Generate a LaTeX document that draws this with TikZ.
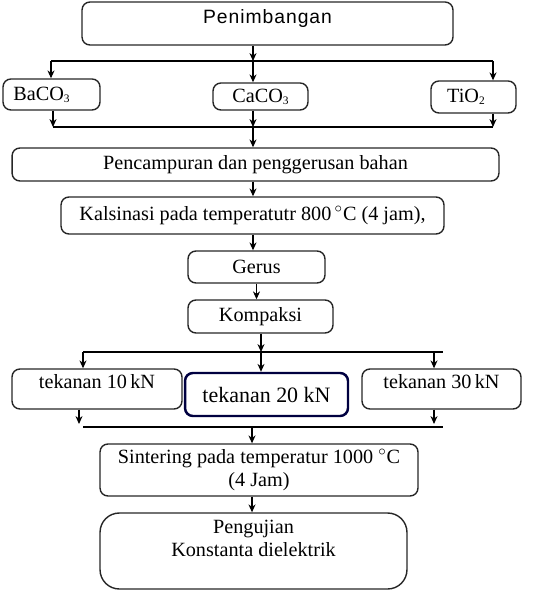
\documentclass[tikz,border=0pt]{standalone}
\usepackage{fontspec}
\setmainfont{Liberation Serif}
\newfontfamily\headfont[LetterSpace=5]{Liberation Sans}
\usepackage{tikz}
\usetikzlibrary{positioning,calc,arrows.meta}
\colorlet{boxline}{black!85}
\colorlet{pressline}{blue!25!black}
\newcommand{\chemsub}[1]{\raisebox{-1.2pt}{\fontsize{6.5}{6.5}\selectfont #1}}
\tikzset{
  procbox/.style={draw=boxline, line width=0.8pt, rounded corners=4.5pt, align=center,
    font=\fontsize{11.5}{13}\selectfont, inner sep=2pt},
  flow/.style={line width=0.6pt},
  flowarr/.style={flow, -{Stealth[length=4.5pt,width=4pt]}}
}
\begin{document}
\begin{tikzpicture}[x=0.02cm, y=-0.02cm]
            \useasboundingbox (0,0) rectangle (539,590);

            % Weighing and raw materials
            \node[procbox, minimum width=7.42cm, minimum height=0.86cm, text depth=0.26cm,
                font=\headfont\fontsize{11}{12}\selectfont] (weigh) at (267.5,23.5) {Penimbangan};
            \node[procbox, minimum width=1.94cm, minimum height=0.62cm] (BaCO) 
                at (51.5,94.5) {BaCO\chemsub{3}\hspace{0.4cm}};
            \node[procbox, minimum width=1.9cm, minimum height=0.54cm] (CaCO) 
                at (260.5,96.5) {CaCO\chemsub{3}};
            \node[procbox, minimum width=1.7cm, minimum height=0.64cm] (TiO) 
                at (473.5,97) {TiO\chemsub{2}\hspace{0.3cm}};

            % Processing steps
            \node[procbox, minimum width=9.74cm, minimum height=0.66cm] (mixing) 
                at (255.5,164.5) {Pencampuran dan penggerusan bahan};
            \node[procbox, minimum width=7.66cm, minimum height=0.74cm] (calcine) 
                at (252.5,215.5) {Kalsinasi pada temperatutr 800\,$^{\circ}$C (4 jam),};
            \node[procbox, minimum width=2.74cm, minimum height=0.64cm] (grind) 
                at (256.5,267) {Gerus};
            \node[procbox, minimum width=2.9cm, minimum height=0.66cm] (compact) 
                at (260.5,316.5) {Kompaksi};

            % Pressing loads
            \node[procbox, minimum width=3.4cm, minimum height=0.8cm, text depth=0.3cm] (press10) 
                at (97,389) {tekanan 10\,kN};
            \node[procbox, draw=pressline, line width=1.4pt, minimum width=3.26cm, minimum height=0.86cm,
                font=\fontsize{12.5}{14}\selectfont] (press20) 
                at (266.5,394.5) {tekanan 20 kN};
            \node[procbox, minimum width=3.18cm, minimum height=0.8cm, text depth=0.3cm] (press30) 
                at (441.5,389) {tekanan 30\,kN};

            % Sintering and testing
            \node[procbox, minimum width=6.36cm, minimum height=1.04cm] (sinter) 
                at (259,470) {Sintering pada temperatur 1000 $^{\circ}$C\\(4 Jam)};
            \node[procbox, rounded corners=11pt, minimum width=6.14cm, minimum height=1.52cm, text depth=0.5cm] (testing) 
                at (253.5,551) {Pengujian\\Konstanta dielektrik};

            % Split and join points
            \coordinate (splitL) at (51,61);
            \coordinate (splitM) at (253,61);
            \coordinate (splitR) at (493,61);
            \coordinate (joinL) at (53,127);
            \coordinate (joinM) at (253,127);
            \coordinate (joinR) at (493,127);
            \coordinate (pressL) at (83,352);
            \coordinate (pressM) at (261,352);
            \coordinate (pressR) at (443,352);
            \coordinate (pressRdrop) at (434,352);
            \coordinate (mergeL) at (83,427);
            \coordinate (mergeM) at (252,427);
            \coordinate (mergeR) at (443,427);
            \coordinate (endL) at (79,424);
            \coordinate (endR) at (434,424);

            % Connectors
            \draw[flowarr] (weigh.south -| splitM) -- (splitM);
            \draw[flow] (splitL) -- (splitR);
            \draw[flowarr] (splitL) -- (BaCO.north -| splitL);
            \draw[flowarr] (splitM) -- (CaCO.north -| splitM);
            \draw[flowarr] (splitR) -- (TiO.north -| splitR);
            \draw[flowarr] (BaCO.south -| joinL) -- (joinL);
            \draw[flowarr] (CaCO.south -| joinM) -- (joinM);
            \draw[flowarr] (TiO.south -| joinR) -- (joinR);
            \draw[flow] (joinL) -- (joinR);
            \draw[flowarr] (joinM) -- (mixing.north -| joinM);
            \draw[flowarr] (mixing.south -| joinM) -- (calcine.north -| joinM);
            \draw[flowarr] (calcine.south -| joinM) -- (grind.north -| joinM);
            \draw[flowarr] (grind.south) -- (compact.north -| grind.south);
            \draw[flowarr] (compact.south -| pressM) -- (pressM);
            \draw[flow] (pressL) -- (pressR);
            \draw[flowarr] (pressL) -- (press10.north -| pressL);
            \draw[flowarr] (pressM) -- (press20.north -| pressM);
            \draw[flowarr] (pressRdrop) -- (press30.north -| pressRdrop);
            \draw[flowarr] (press10.south -| endL) -- (endL);
            \draw[flowarr] (press30.south -| endR) -- (endR);
            \draw[flow] (mergeL) -- (mergeR);
            \draw[flowarr] (mergeM) -- (sinter.north -| mergeM);
            \draw[flowarr] (sinter.south -| mergeM) -- (testing.north -| mergeM);
\end{tikzpicture}
\end{document}
